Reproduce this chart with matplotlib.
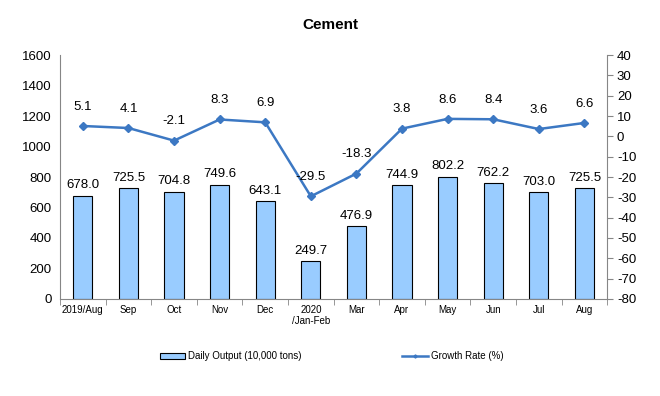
import numpy as np
import matplotlib.pyplot as plt
from matplotlib.ticker import FixedLocator

plt.rcParams['font.family'] = ['Liberation Sans', 'DejaVu Sans']
plt.rcParams['axes.unicode_minus'] = False

months = ['2019/Aug', 'Sep', 'Oct', 'Nov', 'Dec', '2020\n/Jan-Feb',
          'Mar', 'Apr', 'May', 'Jun', 'Jul', 'Aug']
output = [678.0, 725.5, 704.8, 749.6, 643.1, 249.7,
          476.9, 744.9, 802.2, 762.2, 703.0, 725.5]
growth = [5.1, 4.1, -2.1, 8.3, 6.9, -29.5,
          -18.3, 3.8, 8.6, 8.4, 3.6, 6.6]

x = np.arange(len(months))
spine_col = '#868686'
line_col = '#3C78C3'

fig = plt.figure(figsize=(6.6, 3.96), dpi=100)
ax = fig.add_axes([0.091, 0.245, 0.829, 0.616])
ax2 = ax.twinx()

bars = ax.bar(x, output, width=0.42, color='#99CCFF', edgecolor='black',
              linewidth=0.8)
for xi, v in zip(x, output):
    ax.text(xi, v + 28, '%.1f' % v, ha='center', va='bottom', fontsize=9.5)

ax.set_xlim(-0.5, len(months) - 0.5)
ax.set_ylim(0, 1600)
ax.set_yticks(np.arange(0, 1601, 200))
ax.set_xticks(x)
ax.set_xticklabels(months)
for lbl in ax.get_xticklabels():
    lbl.set_fontsize(7)
ax.xaxis.set_minor_locator(FixedLocator(np.arange(-0.5, len(months), 1)))
ax.tick_params(axis='x', which='major', length=0, pad=4)
ax.tick_params(axis='x', which='minor', length=4, color=spine_col)
ax.tick_params(axis='y', length=0, labelsize=9.5, pad=6)

ln, = ax2.plot(x, growth, color=line_col, linewidth=1.8, marker='D',
               markersize=4)
for xi, g in zip(x, growth):
    ax2.text(xi, g + 6.5, '%.1f' % g, ha='center', va='bottom', fontsize=9.5)
ax2.set_ylim(-80, 40)
ax2.set_yticks(np.arange(-80, 41, 10))
ax2.tick_params(axis='y', length=4, color=spine_col, labelsize=9.5, pad=3)

for a in (ax, ax2):
    a.spines['top'].set_visible(False)
    for s in ('left', 'right', 'bottom'):
        a.spines[s].set_color(spine_col)
ax2.spines['left'].set_visible(False)
ax2.spines['bottom'].set_visible(False)
ax.spines['right'].set_visible(False)

fig.suptitle('Cement', x=0.5, y=0.955, fontsize=11, fontweight='bold')

fig.legend([bars, ln], ['Daily Output (10,000 tons)', 'Growth Rate (%)'],
           loc='center', bbox_to_anchor=(0.502, 0.1), ncol=2, frameon=False,
           fontsize=7, columnspacing=10.4, handlelength=2.6, handletextpad=0.3,
           markerscale=0.4)

fig.savefig('out.png', dpi=100)
